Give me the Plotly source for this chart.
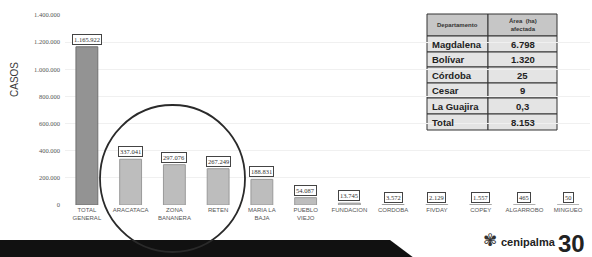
import plotly.graph_objects as go

categories = ["TOTAL<br>GENERAL", "ARACATACA", "ZONA<br>BANANERA", "RETEN", "MARIA LA<br>BAJA",
              "PUEBLO<br>VIEJO", "FUNDACION", "CORDOBA", "FIVDAY", "COPEY", "ALGARROBO", "MINGUEO"]
casos = [1165922, 337041, 297076, 267249, 188831, 54087, 13745, 3572, 2129, 1557, 465, 50]
casos_labels = ["1.165.922", "337.041", "297.076", "267.249", "188.831", "54.087",
                "13.745", "3.572", "2.129", "1.557", "465", "50"]
y_tickvals = [0, 200000, 400000, 600000, 800000, 1000000, 1200000, 1400000]
y_ticktext = ["0", "200.000", "400.000", "600.000", "800.000", "1.000.000", "1.200.000", "1.400.000"]

table_header = ["Departamento", "Área  (ha)<br>afectada"]
departamentos = ["Magdalena", "Bolívar", "Córdoba", "Cesar", "La Guajira", "Total"]
areas = ["6.798", "1.320", "25", "9", "0,3", "8.153"]

W, H = 592, 257
L, R, T, B = 65, 2, 15, 52
PW, PH = W - L - R, H - T - B


def xp(px):
    return (px - L) / PW


def yp(py):
    return (H - B - py) / PH


bar_colors = ["#939393"] + ["#bdbdbd"] * (len(casos) - 1)
line_colors = ["#707070"] + ["#9a9a9a"] * (len(casos) - 1)

fig = go.Figure()
fig.add_trace(go.Bar(
    x=categories, y=casos,
    marker=dict(color=bar_colors, line=dict(color=line_colors, width=1)),
    hoverinfo="skip",
))

annotations = []
for c, v, lab in zip(categories, casos, casos_labels):
    annotations.append(dict(
        x=c, y=v, xref="x", yref="y", text=lab, showarrow=False,
        xanchor="center", yanchor="bottom", yshift=2,
        font=dict(family="Liberation Serif", size=6.5, color="#333"),
        bgcolor="white", bordercolor="#444", borderwidth=1, borderpad=1,
    ))

annotations.append(dict(
    x=xp(15), y=yp(80), xref="paper", yref="paper", text="CASOS", textangle=-90,
    xanchor="center", yanchor="middle",
    showarrow=False, font=dict(family="Liberation Sans", size=10, color="#3a3a3a"),
))

shapes = []
# table
tx0, tx1, tx2 = 427, 488, 557
row_edges = [14, 36, 52, 67, 83, 98, 114, 130]
for i in range(len(row_edges) - 1):
    fill = "#c6c6c6" if i == 0 else "#e4e4e4"
    for (a, b) in [(tx0, tx1), (tx1, tx2)]:
        shapes.append(dict(type="rect", xref="paper", yref="paper",
                           x0=xp(a), x1=xp(b), y0=yp(row_edges[i + 1]), y1=yp(row_edges[i]),
                           fillcolor=fill, line=dict(color="#333", width=1), layer="below"))

hy = (row_edges[0] + row_edges[1]) / 2
annotations.append(dict(x=xp((tx0 + tx1) / 2), y=yp(hy), xref="paper", yref="paper",
                        xanchor="center", yanchor="middle",
                        text="<b>" + table_header[0] + "</b>", showarrow=False,
                        font=dict(family="Liberation Sans", size=6, color="#333")))
annotations.append(dict(x=xp((tx1 + tx2) / 2), y=yp(hy), xref="paper", yref="paper",
                        xanchor="center", yanchor="middle",
                        text="<b>" + table_header[1] + "</b>", showarrow=False,
                        font=dict(family="Liberation Sans", size=6, color="#333")))
for i, (d, a) in enumerate(zip(departamentos, areas)):
    cy = (row_edges[i + 1] + row_edges[i + 2]) / 2
    annotations.append(dict(x=xp(tx0 + 3), y=yp(cy), xref="paper", yref="paper",
                            text="<b>" + d + "</b>", showarrow=False,
                            xanchor="left", yanchor="middle",
                            font=dict(family="Liberation Sans", size=9.5, color="#222")))
    annotations.append(dict(x=xp((tx1 + tx2) / 2), y=yp(cy), xref="paper", yref="paper",
                            text="<b>" + a + "</b>", showarrow=False,
                            xanchor="center", yanchor="middle",
                            font=dict(family="Liberation Sans", size=9.5, color="#222")))

# bottom black band
path = "M {},{} L {},{} L {},{} L {},{} Z".format(
    xp(0), yp(240), xp(390), yp(240), xp(414), yp(258), xp(0), yp(258))
shapes.append(dict(type="path", xref="paper", yref="paper", path=path,
                   fillcolor="#111111", line=dict(width=0), layer="above"))

# circle highlight
shapes.append(dict(type="circle", xref="paper", yref="paper",
                   x0=xp(100), x1=xp(245), y0=yp(252), y1=yp(105),
                   line=dict(color="#2a2a2a", width=1.8), layer="above"))

# logo
annotations.append(dict(x=xp(558), y=yp(242), xref="paper", yref="paper",
                        text="<b>cenipalma</b>", showarrow=False,
                        xanchor="right", yanchor="middle",
                        font=dict(family="Liberation Sans Narrow, Liberation Sans", size=11, color="#222")))
annotations.append(dict(x=xp(556), y=yp(243), xref="paper", yref="paper",
                        text="<b>30</b>", showarrow=False,
                        xanchor="left", yanchor="middle",
                        font=dict(family="Liberation Sans", size=24, color="#222")))
annotations.append(dict(x=xp(490), y=yp(240), xref="paper", yref="paper",
                        text="✾", showarrow=False,
                        xanchor="center", yanchor="middle",
                        font=dict(family="DejaVu Sans", size=17, color="#333")))

fig.update_layout(
    width=W, height=H,
    margin=dict(l=L, r=R, t=T, b=B, autoexpand=False),
    paper_bgcolor="white", plot_bgcolor="white",
    showlegend=False, bargap=0.5,
    separators=",.",
    xaxis=dict(showgrid=False, showline=False, zeroline=False, ticks="", automargin=False,
               tickangle=0, tickfont=dict(family="Liberation Sans", size=6, color="#555"),
               range=[-0.5, len(categories) - 0.5]),
    yaxis=dict(range=[0, 1400000], tickvals=y_tickvals, ticktext=y_ticktext, automargin=False,
               showgrid=True, gridcolor="#f0f0f0", zeroline=False, showline=False,
               ticks="", ticklabelstandoff=4,
               tickfont=dict(family="Liberation Serif", size=6.5, color="#555")),
    annotations=annotations,
    shapes=shapes,
)

fig.write_html("out.html", config={"displayModeBar": False},
               post_script="document.body.style.margin='0';document.body.style.overflow='hidden';")
